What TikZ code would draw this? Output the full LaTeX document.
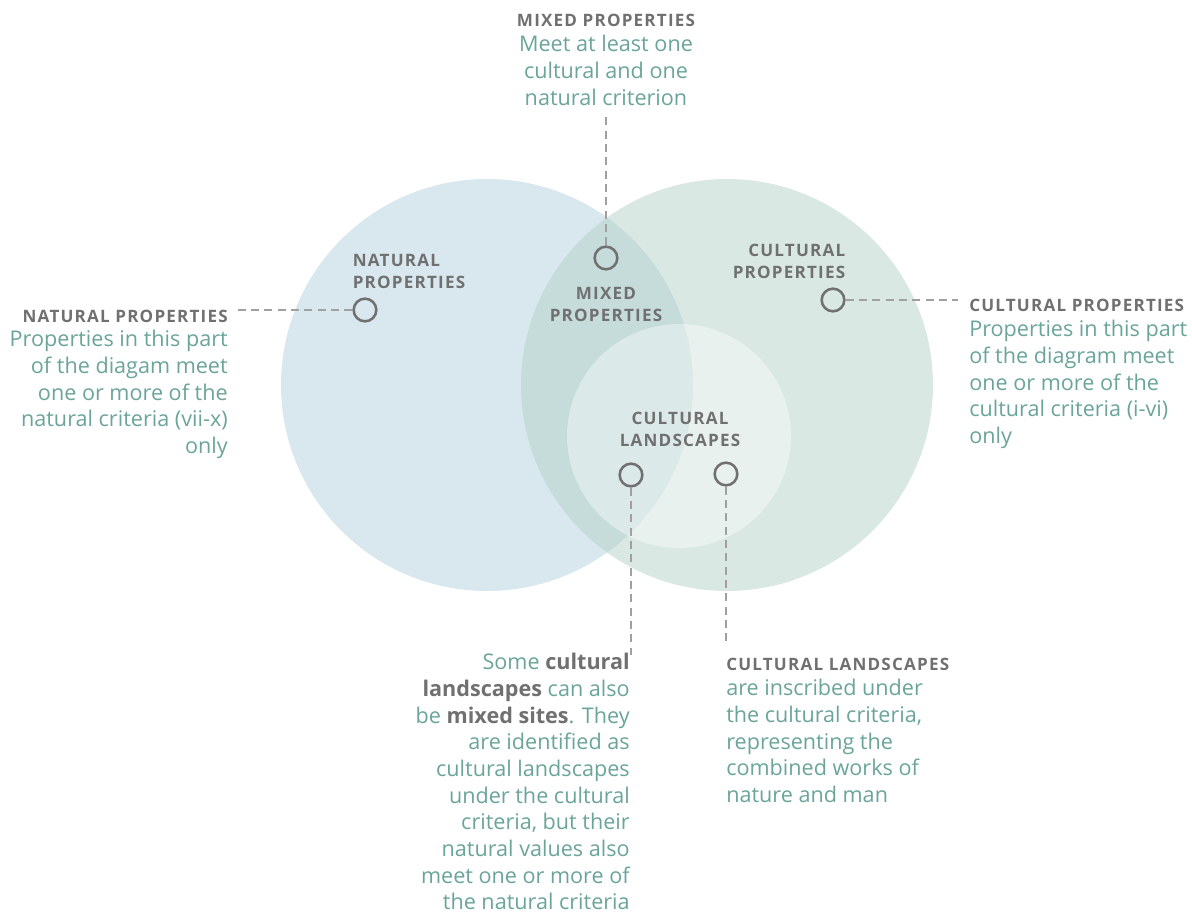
\documentclass[tikz,border=0pt]{standalone}
\usepackage{fontspec}
\setmainfont{Open Sans}
\newfontfamily\titlefont{Open Sans}[LetterSpace=7]
\usetikzlibrary{positioning}
\definecolor{natblue}{RGB}{216,232,238}
\definecolor{culgreen}{RGB}{179,208,198}
\definecolor{markgray}{RGB}{112,112,112}
\definecolor{dashgray}{RGB}{160,160,160}
\definecolor{titlegray}{RGB}{112,112,112}
\definecolor{bodyteal}{RGB}{106,164,154}
\tikzset{
mymarker/.style={
  circle,
  line width=1.9pt,
  inner sep=0pt,
  minimum size=17pt,
  draw=markgray,
  }
}
\tikzset{
myleader/.style={
  line width=0.9pt,
  draw=dashgray,
  dash pattern=on 6pt off 4pt,
  }
}
\tikzset{
mytitle/.style={
  inner sep=0pt,
  text=titlegray,
  font=\titlefont\fontsize{12.8}{16.5}\selectfont\bfseries,
  }
}
\tikzset{
mytext/.style={
  inner sep=0pt,
  text=bodyteal,
  font=\fontsize{16.2}{20}\selectfont,
  }
}

\begin{document}
\begin{tikzpicture}[x=0.75pt,y=-0.75pt]
    \useasboundingbox (0,0) rectangle (1192,916);

    % circles
    \fill[natblue] (487,385) circle[radius=206];
    \fill[culgreen, opacity=0.49] (727,385) circle[radius=206];
    \fill[white, opacity=0.38] (679,436) circle[radius=112];

    % labels inside the circles
    \node[mytitle, align=left] (nat_lab) at (409,271) {NATURAL\\PROPERTIES};
    \node[mytitle, align=center] (mix_lab) at (606,304) {MIXED\\PROPERTIES};
    \node[mytitle, align=right] (cul_lab) at (789,261) {CULTURAL\\PROPERTIES};
    \node[mytitle, align=center] (land_lab) at (680,429) {CULTURAL\\LANDSCAPES};

    % markers
    \node[mymarker] (nat_mark) at (365,310) {};
    \node[mymarker] (mix_mark) at (606,258) {};
    \node[mymarker] (cul_mark) at (833,300) {};
    \node[mymarker] (landmix_mark) at (631,475) {};
    \node[mymarker] (land_mark) at (726,474) {};

    % free ends of the leaders
    \coordinate (nat_end) at (235,310);
    \coordinate (mix_end) at (606,117);
    \coordinate (cul_end) at (958,300);
    \coordinate (landmix_end) at (631,655);
    \coordinate (land_end) at (726,645);

    % leaders
    \draw[myleader] (nat_mark) -- (nat_end);
    \draw[myleader] (mix_mark) -- (mix_end);
    \draw[myleader] (cul_mark) -- (cul_end);
    \draw[myleader] (landmix_mark) -- (landmix_end);
    \draw[myleader] (land_mark) -- (land_end);

    % mixed properties text
    \node[mytitle] (mix_title) at (606,20) {MIXED PROPERTIES};
    \node[mytext, align=center, anchor=north] (mix_text) at (606,35)
        {Meet at least one\\cultural and one\\natural criterion};

    % natural properties text
    \node[mytitle, anchor=east] (nat_title) at (228,316) {NATURAL PROPERTIES};
    \node[mytext, align=right, anchor=north east] (nat_text) at (228,330)
        {Properties in this part\\of the diagam meet\\one or more of the\\natural criteria (vii-x)\\only};

    % cultural properties text
    \node[mytitle, anchor=west] (cul_title) at (969,305) {CULTURAL PROPERTIES};
    \node[mytext, align=left, anchor=north west] (cul_text) at (969,320)
        {Properties in this part\\of the diagram meet\\one or more of the\\cultural criteria (i-vi)\\only};

    % cultural landscapes / mixed sites text
    \node[mytext, align=right, anchor=north east] (landmix_text) at (630,653)
        {Some \textcolor{titlegray}{\bfseries cultural}\\\textcolor{titlegray}{\bfseries landscapes} can also\\be \textcolor{titlegray}{\bfseries mixed sites}. They\\are identified as\\cultural landscapes\\under the cultural\\criteria, but their\\natural values also\\meet one or more of\\the natural criteria};

    % cultural landscapes text
    \node[mytitle, anchor=west] (land_title) at (726,664) {CULTURAL LANDSCAPES};
    \node[mytext, align=left, anchor=north west] (land_text) at (726,679)
        {are inscribed under\\the cultural criteria,\\representing the\\combined works of\\nature and man};
\end{tikzpicture}
\end{document}
